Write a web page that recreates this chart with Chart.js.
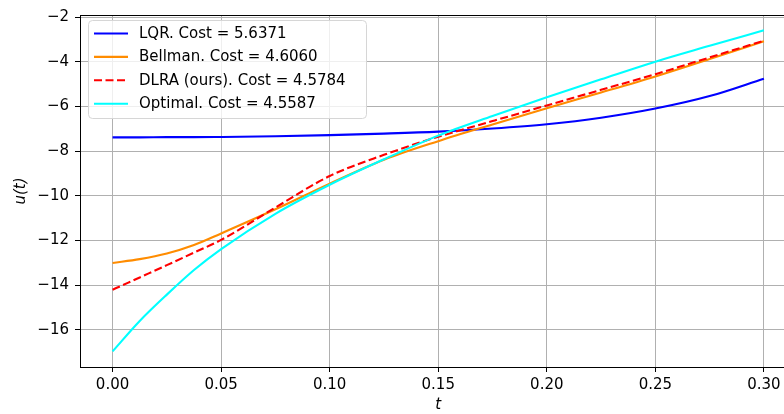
<!DOCTYPE html>
<html>
<head>
<meta charset="utf-8">
<script src="https://cdn.jsdelivr.net/npm/chart.js@4/dist/chart.umd.min.js"></script>
<style>
  html, body { margin: 0; padding: 0; background: #fff; overflow: hidden; }
  #wrap { width: 800px; height: 414px; position: relative; }
</style>
</head>
<body>
<div id="wrap"><canvas id="chart"></canvas></div>
<script>
// values
const tVals    = [0, 0.0125, 0.025, 0.0375, 0.05, 0.075, 0.10, 0.125, 0.15, 0.175, 0.20, 0.225, 0.25, 0.275, 0.30];
const lqr      = [-7.38, -7.38, -7.37, -7.37, -7.36, -7.33, -7.28, -7.21, -7.12, -6.98, -6.79, -6.50, -6.09, -5.53, -4.75];
const bellman  = [-13.00, -12.83, -12.58, -12.20, -11.68, -10.60, -9.45, -8.38, -7.55, -6.80, -6.07, -5.37, -4.65, -3.87, -3.08];
const dlra     = [-14.20, -13.65, -13.10, -12.54, -11.97, -10.52, -9.11, -8.16, -7.35, -6.65, -5.95, -5.25, -4.55, -3.80, -3.05];
const optimal  = [-16.96, -15.60, -14.42, -13.32, -12.38, -10.80, -9.50, -8.36, -7.30, -6.42, -5.58, -4.78, -3.99, -3.28, -2.58];
const seriesLabels = ['LQR. Cost = 5.6371', 'Bellman. Cost = 4.6060', 'DLRA (ours). Cost = 4.5784', 'Optimal. Cost = 4.5587'];
const xTicks = [0, 0.05, 0.10, 0.15, 0.20, 0.25, 0.30];
const yTicks = [-16, -14, -12, -10, -8, -6, -4, -2];

const FONT = 'DejaVu Sans';

function pts(arr) {
    return tVals.map((t, i) => ({ x: t, y: arr[i] }));
}

function makeSet(label, values, color, order, dash) {
    return {
        label: label,
        data: pts(values),
        borderColor: color,
        backgroundColor: color,
        borderWidth: 2.1,
        borderDash: dash || [],
        pointRadius: 0,
        cubicInterpolationMode: 'monotone',
        fill: false,
        order: order
    };
}

// frame + legend box drawn like matplotlib
const framePlugin = {
    id: 'frame',
    afterDraw(chart) {
        const ctx = chart.ctx;
        const a = chart.chartArea;
        ctx.save();
        ctx.strokeStyle = '#000';
        ctx.lineWidth = 1;
        ctx.strokeRect(a.left + 0.5, Math.round(a.top) + 0.5, a.right - a.left, a.bottom - a.top);

        // legend
        const bx = 88, by = 20, bw = 278, bh = 98, r = 4;
        ctx.beginPath();
        ctx.roundRect(bx + 0.5, by + 0.5, bw, bh, r);
        ctx.fillStyle = 'rgba(255,255,255,0.8)';
        ctx.fill();
        ctx.strokeStyle = '#d6d6d6';
        ctx.stroke();

        ctx.font = '15px "' + FONT + '"';
        ctx.textBaseline = 'middle';
        ctx.textAlign = 'left';
        chart.data.datasets.forEach((ds, i) => {
            const y = 33.5 + i * 23.4;
            ctx.beginPath();
            ctx.setLineDash(ds.borderDash);
            ctx.strokeStyle = ds.borderColor;
            ctx.lineWidth = 2.1;
            ctx.moveTo(94, y);
            ctx.lineTo(128, y);
            ctx.stroke();
            ctx.setLineDash([]);
            ctx.fillStyle = '#000';
            ctx.fillText(ds.label, 139, y + 0.5);
        });
        ctx.restore();
    }
};

new Chart(document.getElementById('chart'), {
    type: 'line',
    data: {
        datasets: [
            makeSet(seriesLabels[0], lqr, '#0000ff', 4),
            makeSet(seriesLabels[1], bellman, '#ff8c00', 3),
            makeSet(seriesLabels[2], dlra, '#ff0000', 2, [8, 3.5]),
            makeSet(seriesLabels[3], optimal, '#00ffff', 1)
        ]
    },
    options: {
        responsive: true,
        maintainAspectRatio: false,
        animation: false,
        layout: {
            padding: { top: 13, right: 3.5, left: 0, bottom: 0 }
        },
        plugins: {
            legend: { display: false },
            tooltip: { enabled: false }
        },
        scales: {
            x: {
                type: 'linear',
                min: -0.015,
                max: 0.315,
                afterBuildTicks: function(scale) {
                    scale.ticks = xTicks.map(v => ({ value: v }));
                },
                afterFit: function(scale) {
                    scale.height = 47;
                },
                ticks: {
                    autoSkip: false,
                    maxRotation: 0,
                    padding: 4,
                    color: '#000',
                    font: { family: FONT, size: 15 },
                    callback: function(value) {
                        return value.toFixed(2);
                    }
                },
                grid: {
                    color: '#b0b0b0',
                    lineWidth: 1,
                    tickColor: '#000',
                    tickLength: 5
                },
                border: { color: '#000', width: 1 },
                title: {
                    display: true,
                    text: 't',
                    color: '#000',
                    font: { family: FONT, size: 15, style: 'italic' },
                    padding: { top: 0, bottom: 0 }
                }
            },
            y: {
                min: -17.66,
                max: -1.90,
                afterBuildTicks: function(scale) {
                    scale.ticks = yTicks.map(v => ({ value: v }));
                },
                afterFit: function(scale) {
                    scale.width = 80;
                },
                ticks: {
                    autoSkip: false,
                    padding: 6,
                    color: '#000',
                    font: { family: FONT, size: 15 },
                    callback: function(value) {
                        return String(value).replace('-', '\u2212');
                    }
                },
                grid: {
                    color: '#b0b0b0',
                    lineWidth: 1,
                    tickColor: '#000',
                    tickLength: 5
                },
                border: { color: '#000', width: 1 },
                title: {
                    display: true,
                    text: 'u(t)',
                    color: '#000',
                    font: { family: FONT, size: 15, style: 'italic' },
                    padding: { top: 12, bottom: 0 }
                }
            }
        }
    },
    plugins: [framePlugin]
});
</script>
</body>
</html>
